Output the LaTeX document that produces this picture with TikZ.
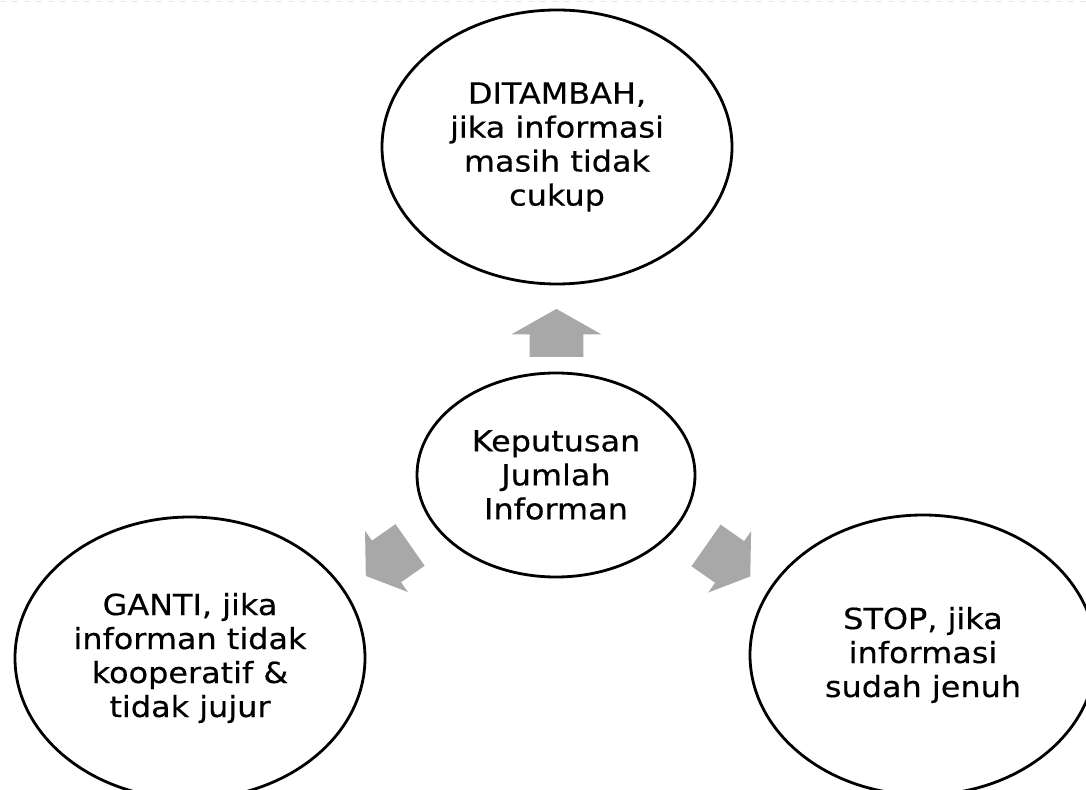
\documentclass[tikz,border=0pt]{standalone}
\usepackage{fontspec}
\setmainfont[FakeStretch=1.1, FakeBold=0.4]{DejaVu Sans}
\definecolor{arrgray}{RGB}{168,168,168}
\usetikzlibrary{shapes.geometric,shapes.arrows,calc}
\tikzset{
  bubble/.style={ellipse, draw=black, line width=1.4pt, inner sep=0pt, align=center,
    font=\fontsize{14.5pt}{17pt}\selectfont},
  bigarrow/.style={single arrow, fill=arrgray, draw=none, inner xsep=0pt, inner ysep=13.25pt,
    minimum height=24pt, minimum width=44.5pt,
    single arrow head extend=9pt, single arrow tip angle=121},
  slantarrow/.style={bigarrow, inner ysep=12.5pt, minimum height=27pt, minimum width=37pt,
    single arrow head extend=6pt, single arrow tip angle=112},
}

\begin{document}
\begin{tikzpicture}[x=0.5pt, y=-0.5pt]
  \useasboundingbox (0,0) rectangle (1086,790);
  \clip (0,0) rectangle (1086,790);
  \draw[gray!20, dashed, line width=0.4pt] (0,1) -- (1086,1);
  % the four ellipses
  \node[bubble, minimum width=175pt, minimum height=137pt] (tambah) at (557,147)
    {DITAMBAH,\\jika informasi\\masih tidak\\cukup};
  \node[bubble, minimum width=139pt, minimum height=102pt] (keputusan) at (556,475)
    {Keputusan\\Jumlah\\Informan};
  \node[bubble, minimum width=175pt, minimum height=141pt] (ganti) at (190,658)
    {GANTI, jika\\informan tidak\\kooperatif \&\\tidak jujur};
  \node[bubble, minimum width=173pt, minimum height=140pt] (stop) at (923,655)
    {STOP, jika\\informasi\\sudah jenuh};
  % grey block arrows
  \node[bigarrow, rotate=90] (uparr) at ($(keputusan)!0.41!(tambah)$) {};
  \node[slantarrow, rotate=215] (leftarr) at ($(keputusan)!0.44!(ganti)$) {};
  \node[slantarrow, rotate=-35] (rightarr) at ($(keputusan)!0.45!(stop)$) {};
\end{tikzpicture}
\end{document}
